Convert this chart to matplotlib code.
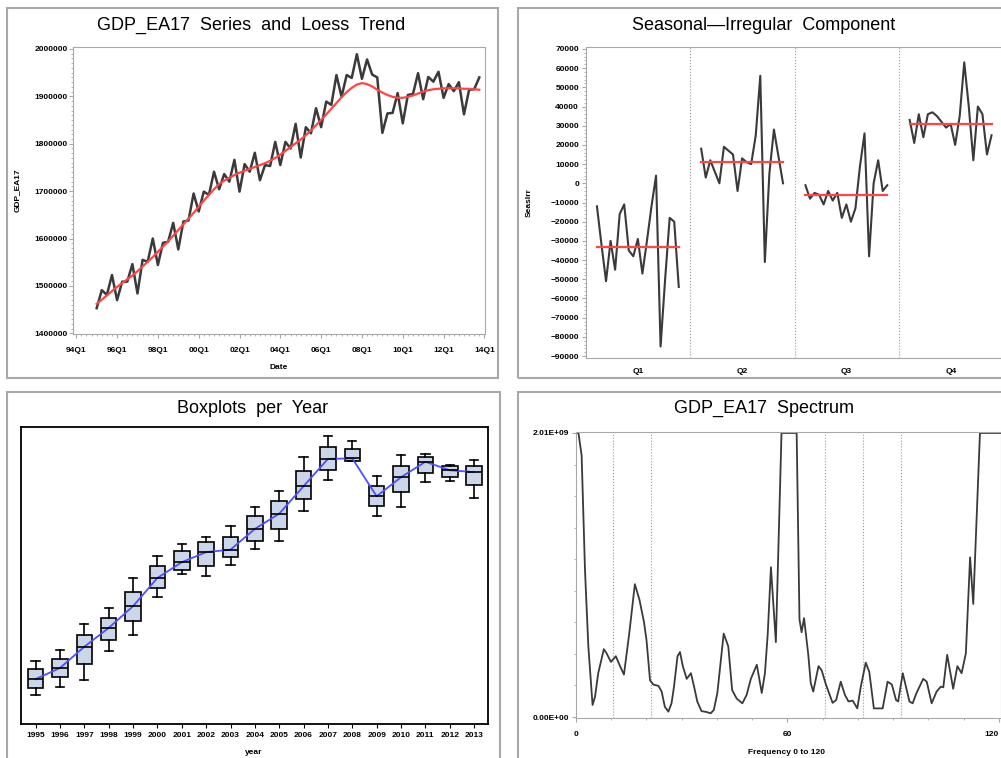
import numpy as np
import matplotlib.pyplot as plt
from matplotlib.patches import Rectangle
from matplotlib.ticker import MultipleLocator, FixedLocator

plt.rcParams['font.family'] = ['Liberation Sans', 'DejaVu Sans']

W, H = 1001, 758

# quarterly GDP_EA17, 1995Q1 .. 2013Q4
years = list(range(1995, 2014))
gdp = [1453000, 1491000, 1481000, 1523000,
       1470000, 1509000, 1509000, 1546000,
       1484000, 1555000, 1551000, 1600000,
       1544000, 1591000, 1593000, 1633000,
       1577000, 1636000, 1638000, 1695000,
       1657000, 1699000, 1692000, 1741000,
       1704000, 1736000, 1720000, 1766000,
       1699000, 1757000, 1741000, 1781000,
       1723000, 1755000, 1753000, 1804000,
       1755000, 1804000, 1790000, 1842000,
       1771000, 1835000, 1822000, 1875000,
       1835000, 1889000, 1882000, 1945000,
       1899000, 1945000, 1939000, 1989000,
       1937000, 1978000, 1946000, 1940000,
       1823000, 1864000, 1865000, 1907000,
       1843000, 1903000, 1905000, 1949000,
       1894000, 1941000, 1931000, 1952000,
       1897000, 1926000, 1911000, 1930000,
       1862000, 1914000, 1915000, 1940000]

# loess trend
trend = [1462000, 1471000, 1480000, 1489000, 1498000, 1506000, 1514000, 1522000,
         1531000, 1541000, 1551000, 1561000, 1572000, 1583000, 1594000, 1606000,
         1618000, 1630000, 1642000, 1654000, 1667000, 1680000, 1692000, 1704000,
         1715000, 1722000, 1728000, 1734000, 1739000, 1743000, 1747000, 1751000,
         1755000, 1759000, 1764000, 1770000, 1777000, 1785000, 1793000, 1801000,
         1809000, 1818000, 1828000, 1839000, 1850000, 1862000, 1874000, 1886000,
         1898000, 1909000, 1918000, 1925000, 1928000, 1926000, 1921000, 1914000,
         1908000, 1903000, 1899000, 1897000, 1897000, 1899000, 1902000, 1906000,
         1910000, 1913000, 1915000, 1916000, 1917000, 1917000, 1917000, 1917000,
         1916000, 1916000, 1915000, 1914000]

# seasonal-irregular component by quarter, 1995..2013
si_q1 = [-12000, -32000, -51000, -30000, -45000, -16000, -11000, -35000, -38000, -29000,
         -47000, -30000, -12000, 4000, -85000, -50000, -18000, -20000, -54000]
si_q2 = [18000, 3000, 12000, 6000, 0, 19000, 17000, 15000, -4000, 13000,
         11000, 10000, 25000, 56000, -41000, 5000, 28000, 14000, 0]
si_q3 = [-1000, -8000, -5000, -6000, -11000, -4000, -9000, -5000, -18000, -11000,
         -20000, -13000, 9000, 26000, -38000, 0, 12000, -4000, -1000]
si_q4 = [33000, 21000, 36000, 24000, 36000, 37000, 35000, 32000, 29000, 31000,
         20000, 35000, 63000, 40000, 12000, 40000, 36000, 15000, 25000]
si_mean = [-33000, 11000, -6000, 31000]
quarters = ['Q1', 'Q2', 'Q3', 'Q4']

# spectrum (clipped at 2.01E+09)
spec_freq = [0, 0.7, 1.6, 2.55, 3.5, 4.7, 5.4, 6.3, 7.9, 8.7, 9.9, 11.3, 12.5, 13.6,
             15.1, 16.7, 18.0, 19.3, 20.0, 21.0, 21.9, 23.4, 24.3, 25.2, 26.2, 27.1,
             27.8, 28.8, 29.5, 30.3, 31.4, 32.6, 33.5, 34.4, 35.6, 37.1, 38.2, 39.1,
             40.1, 41.0, 41.9, 43.2, 44.3, 45.6, 47.2, 48.4, 49.6, 51.3, 52.7, 53.6,
             54.4, 55.3, 56.7, 58.3, 62.6, 63.4, 64.0, 64.7, 65.9, 66.6, 67.3, 68.8,
             69.7, 70.9, 72.8, 73.8, 75.1, 76.3, 77.3, 78.5, 79.8, 80.8, 82.2, 83.2,
             84.5, 87.0, 88.4, 89.6, 90.8, 91.4, 92.7, 94.6, 95.5, 96.6, 98.5, 99.5,
             100.9, 102.3, 103.5, 104.2, 105.3, 107.0, 108.2, 109.4, 110.6, 111.8,
             112.7, 114.6, 121.0]
spec_val = [2.01, 2.01, 1.85, 1.04, 0.50, 0.085, 0.144, 0.31, 0.48, 0.45, 0.39, 0.43,
            0.36, 0.30, 0.59, 0.94, 0.83, 0.67, 0.545, 0.26, 0.23, 0.22, 0.18, 0.073,
            0.038, 0.097, 0.215, 0.43, 0.46, 0.36, 0.27, 0.31, 0.215, 0.11, 0.042,
            0.035, 0.026, 0.05, 0.17, 0.38, 0.59, 0.50, 0.19, 0.13, 0.097, 0.156, 0.27,
            0.37, 0.17, 0.31, 0.59, 1.06, 0.53, 2.01, 2.01, 0.69, 0.60, 0.70, 0.44,
            0.24, 0.18, 0.36, 0.33, 0.23, 0.10, 0.12, 0.25, 0.156, 0.11, 0.116, 0.061,
            0.215, 0.385, 0.32, 0.061, 0.061, 0.25, 0.23, 0.12, 0.11, 0.31, 0.11,
            0.097, 0.17, 0.27, 0.25, 0.097, 0.18, 0.215, 0.21, 0.44, 0.20, 0.36, 0.31,
            0.45, 1.13, 0.80, 2.01, 2.01]
spec_marks = [10.6, 21.2, 70.6, 81.5, 92.2]

GREY = '#a8a8a8'
LINE = '#3a3a3a'
RED = '#ff4545'
TICKFONT = dict(fontsize=6, fontweight='bold')


def box(l, t, r, b):
    return [l / W, 1 - b / H, (r - l) / W, (b - t) / H]


def frame(l, t, r, b):
    fig.add_artist(Rectangle((l / W, 1 - b / H), (r - l) / W, (b - t) / H,
                             transform=fig.transFigure, fill=False, ec=GREY, lw=1.5))


def ftext(x, y, s, **kw):
    fig.text(x / W, 1 - y / H, s, ha='center', va='center', **kw)


def style(ax, spine_col):
    for s in ax.spines.values():
        s.set_color(spine_col)
    ax.tick_params(which='both', direction='out', colors=spine_col, labelcolor='black',
                   labelsize=6)
    ax.tick_params(which='major', length=3)
    ax.tick_params(which='minor', length=1.5)
    for lab in ax.get_xticklabels() + ax.get_yticklabels():
        lab.set_fontweight('bold')


fig = plt.figure(figsize=(W / 100, H / 100), dpi=100)

frame(7, 8, 498, 378)
frame(518, 8, 1015, 378)
frame(7, 392, 500, 775)
frame(518, 392, 1015, 775)

# --- series and loess trend
ax1 = fig.add_axes(box(73, 47, 485, 334))
t = 1995 + np.arange(len(gdp)) / 4
ax1.plot(t, gdp, color=LINE, lw=1.8)
ax1.plot(t, trend, color=RED, lw=1.6)
ax1.set_xlim(1993.84, 2014.03)
ax1.set_ylim(1398500, 2004200)
xt = list(range(1994, 2015, 2))
ax1.set_xticks(xt)
ax1.set_xticklabels(['%02dQ1' % (y % 100) for y in xt])
ax1.xaxis.set_minor_locator(MultipleLocator(0.25))
yt = list(range(1400000, 2000001, 100000))
ax1.set_yticks(yt)
ax1.set_yticklabels([str(v) for v in yt])
ax1.yaxis.set_minor_locator(MultipleLocator(10000))
style(ax1, GREY)
ax1.tick_params(axis='x', pad=6)
ax1.tick_params(axis='y', pad=1)
ftext(251, 25, 'GDP_EA17  Series  and  Loess  Trend', fontsize=13)
ftext(279, 368, 'Date', **TICKFONT)
ftext(17, 190, 'GDP_EA17', rotation=90, **TICKFONT)

# --- seasonal-irregular
ax2 = fig.add_axes(box(586, 47, 1003, 358))
for q, si in enumerate([si_q1, si_q2, si_q3, si_q4]):
    x = q + 0.105 + np.arange(len(si)) * 0.0436
    ax2.plot(x, si, color=LINE, lw=1.5)
    ax2.plot([x[0], x[-1]], [si_mean[q], si_mean[q]], color=RED, lw=1.6)
for q in range(1, 4):
    ax2.axvline(q, color='#999999', lw=0.8, ls=':')
ax2.set_xlim(0, 4)
ax2.set_ylim(-91000, 71000)
ax2.set_xticks([0.5, 1.5, 2.5, 3.5])
ax2.set_xticklabels(quarters)
yt2 = list(range(-90000, 70001, 10000))
ax2.set_yticks(yt2)
ax2.set_yticklabels([str(v).replace('-', '\u2212') for v in yt2])
ax2.yaxis.set_minor_locator(MultipleLocator(2000))
style(ax2, GREY)
ax2.tick_params(axis='x', length=0, pad=7)
ax2.tick_params(axis='y', pad=2)
ftext(764, 25, 'Seasonal\u2014Irregular  Component', fontsize=13)
ftext(529, 203, 'SeasIrr', rotation=90, **TICKFONT)

# --- boxplots per year
ax3 = fig.add_axes(box(21, 427, 488, 724))
stats = []
for k in range(len(years)):
    v = np.sort(gdp[4 * k:4 * k + 4])
    q1, med, q3 = np.percentile(v, [25, 50, 75], method='midpoint')
    stats.append(dict(whislo=v[0], q1=q1, med=med, q3=q3, whishi=v[-1], fliers=[]))
ax3.bxp(stats, positions=range(len(years)), widths=0.64, patch_artist=True,
        showfliers=False, capwidths=0.34,
        boxprops=dict(facecolor='#cbd6e8', edgecolor='black', lw=1.2),
        medianprops=dict(color='black', lw=1.2),
        whiskerprops=dict(color='black', lw=1.2),
        capprops=dict(color='black', lw=1.2))
ax3.plot(range(len(years)), [s['med'] for s in stats], color='#4f4fff', lw=1.3)
ax3.set_xlim(-0.6, 18.57)
ax3.set_ylim(1393000, 2008000)
ax3.set_yticks([])
ax3.set_xticks(range(len(years)))
ax3.set_xticklabels([str(y) for y in years])
style(ax3, 'black')
for s in ax3.spines.values():
    s.set_linewidth(1.3)
ax3.tick_params(axis='x', pad=3)
ftext(253, 408, 'Boxplots  per  Year', fontsize=13)
ftext(254, 753, 'year', **TICKFONT)

# --- spectrum
ax4 = fig.add_axes(box(576, 432, 1001, 718))
for f in spec_marks:
    ax4.axvline(f, color='#999999', lw=0.8, ls=':')
ax4.plot(spec_freq, np.array(spec_val) * 1e9, color=LINE, lw=1.3)
ax4.set_xlim(0, 120.57)
ax4.set_ylim(-7.0e6, 2.017e9)
ax4.set_xticks([0, 60, 120])
ax4.set_xticklabels(['0', '60', '120'])
ax4.xaxis.set_minor_locator(MultipleLocator(10))
ax4.set_yticks([0, 2.01e9])
ax4.set_yticklabels(['0.00E+00', '2.01E+09'])
ax4.yaxis.set_minor_locator(FixedLocator(np.arange(1, 9) * 2.01e9 / 9))
style(ax4, GREY)
ax4.tick_params(axis='x', pad=6)
ax4.tick_params(axis='y', pad=2)
# last label sits on the figure edge, keep it inside
ax4.get_xticklabels()[-1].set_horizontalalignment('right')
ftext(764, 408, 'GDP_EA17  Spectrum', fontsize=13)
ftext(787, 753, 'Frequency 0 to 120', **TICKFONT)

fig.savefig('out.png', dpi=100)
